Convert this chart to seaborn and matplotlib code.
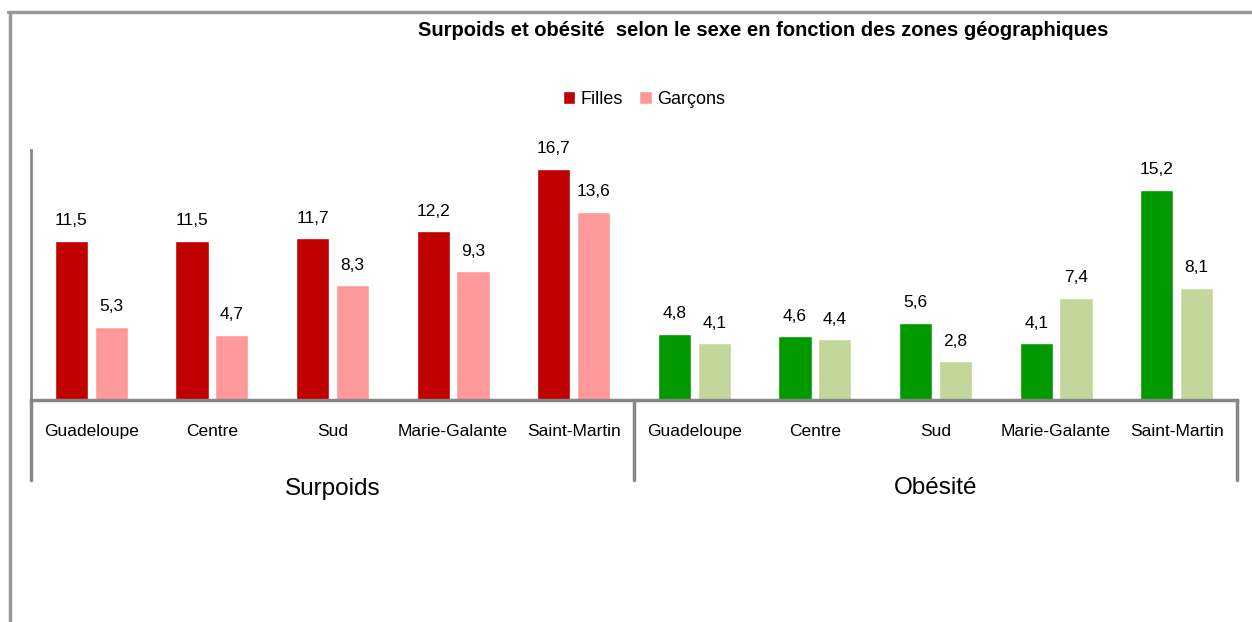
import matplotlib
matplotlib.use('Agg')
import matplotlib.pyplot as plt
import matplotlib.transforms as mtransforms
from matplotlib.lines import Line2D
from matplotlib.patches import Patch
import seaborn as sns
import pandas as pd

categories = ['Guadeloupe', 'Centre', 'Sud', 'Marie-Galante', 'Saint-Martin']
groups = ['Surpoids', 'Obésité']
sexes = ['Filles', 'Garçons']
surpoids_filles = [11.5, 11.5, 11.7, 12.2, 16.7]
surpoids_garcons = [5.3, 4.7, 8.3, 9.3, 13.6]
obesite_filles = [4.8, 4.6, 5.6, 4.1, 15.2]
obesite_garcons = [4.1, 4.4, 2.8, 7.4, 8.1]

rows = []
for g, filles, garcons in [(groups[0], surpoids_filles, surpoids_garcons),
                           (groups[1], obesite_filles, obesite_garcons)]:
    for cat, f, m in zip(categories, filles, garcons):
        rows.append({'zone': g + ' - ' + cat, 'sexe': sexes[0], 'valeur': f})
        rows.append({'zone': g + ' - ' + cat, 'sexe': sexes[1], 'valeur': m})
df = pd.DataFrame(rows)

red, pink = '#C00000', '#FF9999'
green, lightgreen = '#009900', '#C4D79B'
axis_grey = '#878787'

sns.set_style('white')
plt.rcParams['font.family'] = ['Liberation Sans Narrow', 'Liberation Sans', 'DejaVu Sans']
plt.rcParams['text.color'] = 'black'
plt.rcParams['xtick.color'] = 'black'

fig = plt.figure(figsize=(12.52, 6.22), dpi=100)
ax = fig.add_axes([31 / 1252, 1 - 400 / 622, 1206 / 1252, 250 / 622])

sns.barplot(data=df, x='zone', y='valeur', hue='sexe', palette=[red, pink],
            saturation=1, width=0.66, gap=0.17, ax=ax, legend=False)

# obésité bars in green
for bar in ax.containers[0].patches[5:]:
    bar.set_facecolor(green)
for bar in ax.containers[1].patches[5:]:
    bar.set_facecolor(lightgreen)

for cont in ax.containers:
    ax.bar_label(cont, labels=[f'{v:.1f}'.replace('.', ',') for v in cont.datavalues],
                 padding=9, fontsize=12.5, color='black')

ax.set_xlim(-0.5, 9.5)
ax.set_ylim(0, 18.07)
ax.set_yticks([])
ax.set_xticks(range(10))
ax.set_xticklabels(categories * 2, fontsize=12.5)
ax.tick_params(axis='x', length=0, pad=17, labelcolor='black')
ax.set_xlabel('')
ax.set_ylabel('')

for side in ['top', 'right']:
    ax.spines[side].set_visible(False)
ax.spines['left'].set_color(axis_grey)
ax.spines['left'].set_linewidth(2)
ax.spines['bottom'].set_color(axis_grey)
ax.spines['bottom'].set_linewidth(2.5)

# group separators and group labels below the axis
trans = mtransforms.blended_transform_factory(ax.transData, ax.transAxes)
for xs in [-0.5, 4.5, 9.5]:
    ax.plot([xs, xs], [0, -0.32], color=axis_grey, lw=2.5, transform=trans, clip_on=False)
ax.text(2, -0.355, groups[0], transform=trans, ha='center', va='center', fontsize=17.5)
ax.text(7, -0.35, groups[1], transform=trans, ha='center', va='center', fontsize=17.5)

# legend
handles = [Patch(facecolor=red), Patch(facecolor=pink)]
fig.legend(handles, sexes, loc='center', bbox_to_anchor=(644 / 1252, 1 - 99 / 622),
           ncol=2, frameon=False, fontsize=13, handlelength=0.7, handleheight=0.7,
           handletextpad=0.3, columnspacing=0.9)

fig.text(763 / 1252, 1 - 31 / 622, 'Surpoids et obésité  selon le sexe en fonction des zones géographiques',
         ha='center', va='center', fontsize=14.5, fontweight='bold')

# outer frame (top and left)
fig.add_artist(Line2D([8 / 1252, 1], [1 - 12 / 622, 1 - 12 / 622], color='#999999', lw=2.5))
fig.add_artist(Line2D([10 / 1252, 10 / 1252], [0, 1 - 12 / 622], color='#999999', lw=2.5))

fig.savefig('out.png', dpi=100)
